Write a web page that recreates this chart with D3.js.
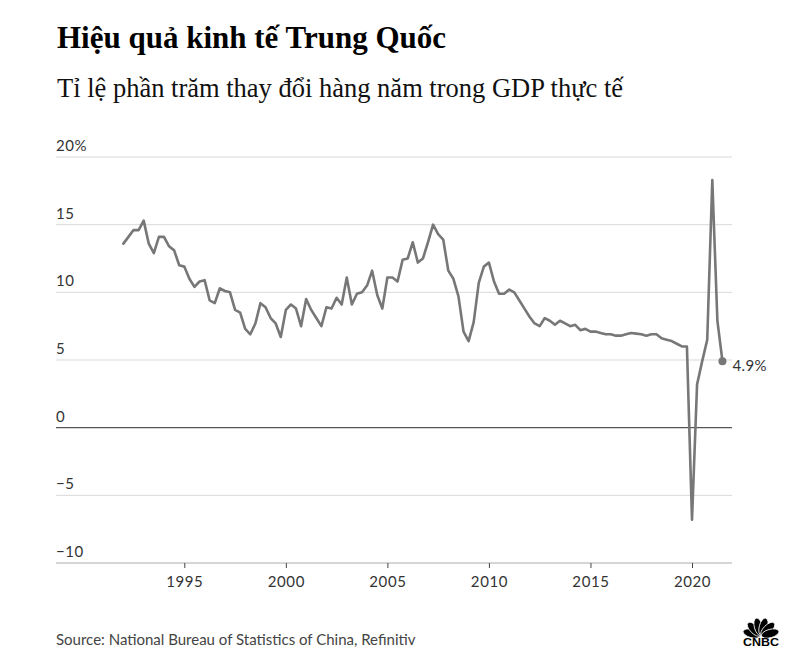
<!DOCTYPE html>
<html>
<head>
<meta charset="utf-8">
<script src="https://cdn.jsdelivr.net/npm/d3@7"></script>
<style>
  html, body { margin: 0; padding: 0; background: #fff; }
  svg { display: block; }
</style>
</head>
<body>
<svg id="chart" width="809" height="655"></svg>
<script>
// ---- Data ----
const title = "Hiệu quả kinh tế Trung Quốc";
const subtitle = "Tỉ lệ phần trăm thay đổi hàng năm trong GDP thực tế";
const source = "Source: National Bureau of Statistics of China, Refinitiv";
const startYear = 1992; // first quarter: 1992 Q1
const gdpGrowth = [
  13.6, 14.1, 14.6, 14.6,   // 1992
  15.3, 13.6, 12.9, 14.1,   // 1993
  14.1, 13.4, 13.1, 12.0,   // 1994
  11.9, 11.0, 10.4, 10.8,   // 1995
  10.9, 9.4, 9.2, 10.3,     // 1996
  10.1, 10.0, 8.7, 8.5,     // 1997
  7.3, 6.9, 7.7, 9.2,       // 1998
  8.9, 8.1, 7.7, 6.7,       // 1999
  8.7, 9.1, 8.8, 7.5,       // 2000
  9.5, 8.7, 8.1, 7.5,       // 2001
  8.9, 8.8, 9.6, 9.1,       // 2002
  11.1, 9.1, 9.9, 10.0,     // 2003
  10.5, 11.6, 9.8, 8.8,     // 2004
  11.1, 11.1, 10.8, 12.4,   // 2005
  12.5, 13.7, 12.2, 12.5,   // 2006
  13.7, 15.0, 14.3, 13.9,   // 2007
  11.6, 11.0, 9.7, 7.1,     // 2008
  6.4, 7.8, 10.7, 11.9,     // 2009
  12.2, 10.8, 9.9, 9.9,     // 2010
  10.2, 10.0, 9.4, 8.8,     // 2011
  8.2, 7.7, 7.5, 8.1,       // 2012
  7.9, 7.6, 7.9, 7.7,       // 2013
  7.5, 7.6, 7.2, 7.3,       // 2014
  7.1, 7.1, 7.0, 6.9,       // 2015
  6.9, 6.8, 6.8, 6.9,       // 2016
  7.0, 6.95, 6.9, 6.8,      // 2017
  6.9, 6.9, 6.6, 6.5,       // 2018
  6.4, 6.2, 6.0, 6.0,       // 2019
  -6.8, 3.2, 4.9, 6.5,      // 2020
  18.3, 7.9, 4.9            // 2021
];
const xTicks = [1995, 2000, 2005, 2010, 2015, 2020];
const yTicks = [20, 15, 10, 5, 0, -5, -10];
const yTickLabels = ["20%", "15", "10", "5", "0", "\u22125", "\u221210"];
const lastLabel = "4.9%";

// ---- Layout ----
const svg = d3.select("#chart");
const gridLeft = 56, gridRight = 732;
const x = d3.scaleLinear().domain([1995, 2020]).range([184.3, 692]);
const y = d3.scaleLinear().domain([-10, 20]).range([563, 157]);
const axisFont = "Lato, 'Open Sans', sans-serif";

const data = gdpGrowth.map((v, i) => ({ t: startYear + i / 4, v }));

// Title & subtitle
svg.append("text")
  .attr("x", 57).attr("y", 48)
  .attr("font-family", "'Liberation Serif', 'Times New Roman', serif")
  .attr("font-weight", "bold").attr("font-size", 31).attr("fill", "#000")
  .text(title);
svg.append("text")
  .attr("x", 57).attr("y", 97)
  .attr("font-family", "'Liberation Serif', 'Times New Roman', serif")
  .attr("font-size", 26.5).attr("fill", "#111")
  .text(subtitle);

// Gridlines
const grid = svg.append("g");
grid.selectAll("line").data(yTicks.filter(d => d !== 0 && d !== -10)).join("line")
  .attr("x1", gridLeft).attr("x2", gridRight)
  .attr("y1", d => y(d)).attr("y2", d => y(d))
  .attr("stroke", "#d9d9d9").attr("stroke-width", 1);

// Y labels
svg.append("g").selectAll("text").data(yTicks).join("text")
  .attr("x", gridLeft).attr("y", d => y(d) - 6)
  .attr("font-family", axisFont).attr("font-size", 15)
  .attr("letter-spacing", 0.6)
  .attr("fill", "#333")
  .text((d, i) => yTickLabels[i]);

// Bottom axis
const xAxis = d3.axisBottom(x).tickValues(xTicks).tickFormat(d3.format("d"))
  .tickSize(5).tickPadding(8);
const gx = svg.append("g").attr("transform", `translate(0,${y(-10)})`).call(xAxis);
gx.select(".domain").remove();
gx.insert("line", ":first-child")
  .attr("x1", gridLeft).attr("x2", gridRight).attr("y1", 0).attr("y2", 0)
  .attr("stroke", "#c8c8c8").attr("stroke-width", 1.5);
gx.selectAll(".tick line").attr("stroke", "#444");
gx.selectAll(".tick text")
  .attr("font-family", axisFont).attr("font-size", 15)
  .attr("letter-spacing", 0.6)
  .attr("fill", "#333");

// Zero line
svg.append("line")
  .attr("x1", gridLeft).attr("x2", gridRight)
  .attr("y1", y(0)).attr("y2", y(0))
  .attr("stroke", "#555").attr("stroke-width", 1.2);

// Line
const line = d3.line().x(d => x(d.t)).y(d => y(d.v));
svg.append("path").datum(data)
  .attr("d", line)
  .attr("fill", "none").attr("stroke", "#777")
  .attr("stroke-width", 2.6)
  .attr("stroke-linejoin", "round").attr("stroke-linecap", "round");

// End dot and label
const last = data[data.length - 1];
svg.append("circle")
  .attr("cx", x(last.t)).attr("cy", y(last.v)).attr("r", 4)
  .attr("fill", "#777");
svg.append("text")
  .attr("x", x(last.t) + 10).attr("y", y(last.v) + 10)
  .attr("font-family", axisFont).attr("font-size", 15)
  .attr("letter-spacing", 0.4)
  .attr("fill", "#333")
  .text(lastLabel);

// Source
svg.append("text")
  .attr("x", 56).attr("y", 645)
  .attr("font-family", axisFont).attr("font-size", 15)
  .attr("fill", "#444")
  .text(source);

// CNBC logo (simplified peacock)
const logo = svg.append("g").attr("transform", "translate(761,636)");
const angles = [-75, -45, -15, 15, 45, 75];
logo.selectAll("ellipse").data(angles).join("ellipse")
  .attr("cx", 0).attr("cy", -9.5).attr("rx", 4.2).attr("ry", 9)
  .attr("transform", d => `rotate(${d})`)
  .attr("fill", "#000").attr("stroke", "#fff").attr("stroke-width", 0.8);
logo.append("text")
  .attr("x", -18).attr("y", 10)
  .attr("textLength", 36).attr("lengthAdjust", "spacingAndGlyphs")
  .attr("font-family", "'Liberation Sans', Arial, sans-serif")
  .attr("font-weight", "bold").attr("font-size", 11)
  .attr("fill", "#000")
  .text("CNBC");
</script>
</body>
</html>
